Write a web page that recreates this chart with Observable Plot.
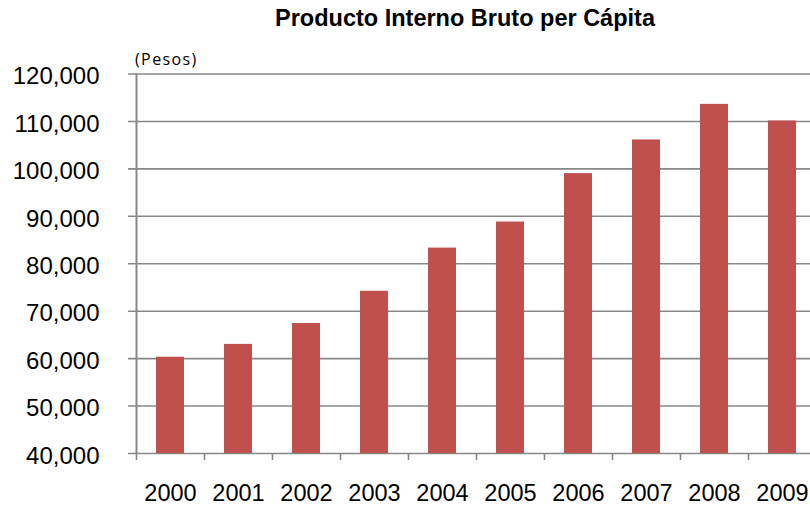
<!DOCTYPE html>
<html>
<head>
<meta charset="utf-8">
<script src="https://cdn.jsdelivr.net/npm/d3@7"></script>
<script src="https://cdn.jsdelivr.net/npm/@observablehq/plot@0.6"></script>
<style>
  html, body { margin: 0; padding: 0; background: #fff; overflow: hidden; }
  #wrap { position: relative; width: 810px; height: 506px; overflow: hidden; }
  #title { position: absolute; left: 465px; top: 7px; transform: translateX(-50%);
           font: bold 23.5px/1 "Liberation Sans", Arial, sans-serif; color: #000; white-space: nowrap; }
  #unit { position: absolute; left: 135px; top: 51px;
          font: 16px/1 "Open Sans", sans-serif; letter-spacing: 1.4px; color: #000; white-space: nowrap; }
  svg { overflow: visible; }
</style>
</head>
<body>
<div id="wrap">
  <div id="chart"></div>
  <div id="title">Producto Interno Bruto per Cápita</div>
  <div id="unit">(Pesos)</div>
</div>
<script>
const years = ["2000","2001","2002","2003","2004","2005","2006","2007","2008","2009"];
const gdpPerCapita = [60300, 63000, 67400, 74200, 83300, 88800, 99000, 106100, 113600, 110100];
const yTicks = [40000, 50000, 60000, 70000, 80000, 90000, 100000, 110000, 120000];
const yMin = 40000, yMax = 120000;

const data = years.map((year, i) => ({year, value: gdpPerCapita[i]}));
const fmt = d3.format(",");
const grey = "#878787";
const step = 68;

const chart = Plot.plot({
  width: 810,
  height: 506,
  marginTop: 73.5,
  marginBottom: 53,
  marginLeft: 136,
  marginRight: -6,
  style: {fontFamily: "'Liberation Sans', Arial, sans-serif", fontSize: "24px", color: "#000", background: "#fff", overflow: "visible"},
  x: {domain: years, paddingInner: 0.59, paddingOuter: 0.295, align: 0.5, axis: null, label: null},
  y: {domain: [yMin, yMax], axis: null, label: null},
  marks: [
    Plot.ruleY(yTicks, {y: d => d, stroke: grey, strokeWidth: 1.6, insetLeft: -8}),
    Plot.axisY(yTicks, {tickSize: 0, tickPadding: 37, tickFormat: fmt, fill: "#000", dy: 2.5, fontSize: 24, label: null}),
    Plot.barY(data, {x: "year", y1: () => yMin, y2: "value", fill: "#C0504D"}),
    Plot.ruleX([0], {x: () => years[0], dx: -step * 0.5, y1: yMin, y2: yMax, stroke: grey, strokeWidth: 2}),
    Plot.axisX(years, {tickSize: 7, tickFormat: () => "", dx: -step / 2, stroke: grey, strokeWidth: 1.6, strokeOpacity: 1, label: null}),
    Plot.axisX(years, {tickSize: 0, tickPadding: 31, fill: "#000", fontSize: 23.5, label: null})
  ]
});
document.getElementById("chart").appendChild(chart);
</script>
</body>
</html>
